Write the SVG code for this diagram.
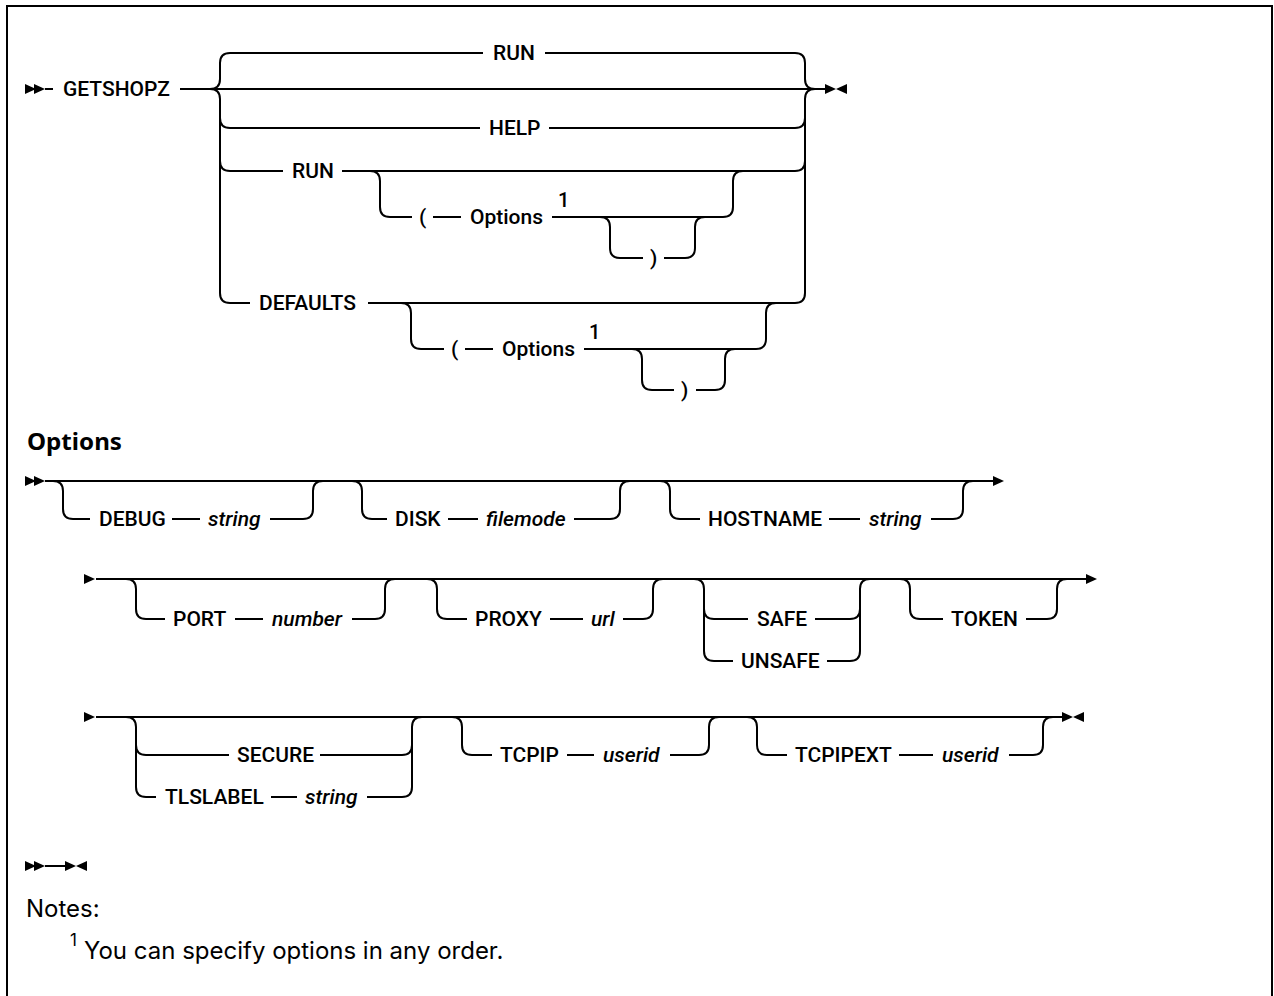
<svg xmlns="http://www.w3.org/2000/svg" width="1274" height="996" viewBox="0 0 1274 996">
<style>
.ln{fill:none;stroke:#000;stroke-width:2}
.t{font-family:Roboto,"Liberation Sans",sans-serif;font-size:21px;font-weight:500;fill:#000}
.i{font-style:italic}
.sup{font-size:20px;font-weight:500}
.h{font-family:"Noto Sans",Roboto,sans-serif;font-size:23px;font-weight:700;fill:#000}
.n{font-family:Inter,Roboto,"Liberation Sans",sans-serif;font-size:24px;font-weight:400;fill:#000}
.ns{font-family:Inter,Roboto,"Liberation Sans",sans-serif;font-size:17px;font-weight:400;fill:#000}
</style>
<defs>
<path id="tr" d="M0,-5 L11,0 L0,5 Z" fill="#000"/>
<path id="tl" d="M0,-5 L-11,0 L0,5 Z" fill="#000"/>
</defs>
<rect x="7" y="6" width="1265" height="1010" fill="#fff" stroke="#000" stroke-width="2"/>

<g id="connectors" class="ln">
<!-- main diagram -->
<path d="M45,89 L53,89"/>
<path d="M180,89 L825,89"/>
<path d="M210,89 Q220,89 220,79 L220,63 Q220,53 230,53 L483,53"/>
<path d="M545,53 L795,53 Q805,53 805,63 L805,79 Q805,89 815,89"/>
<path d="M210,89 Q220,89 220,99 L220,293 Q220,303 230,303 L250,303"/>
<path d="M368,303 L795,303 Q805,303 805,293 L805,99 Q805,89 815,89"/>
<path d="M220,118 Q220,128 230,128 L480,128"/>
<path d="M549,128 L795,128 Q805,128 805,118"/>
<path d="M220,161 Q220,171 230,171 L283,171"/>
<path d="M342,171 L795,171 Q805,171 805,161"/>
<path d="M370,171 Q380,171 380,181 L380,207 Q380,217 390,217 L412,217"/>
<path d="M433,217 L461,217"/>
<path d="M552,217 L723,217 Q733,217 733,207 L733,181 Q733,171 743,171"/>
<path d="M600,217 Q610,217 610,227 L610,248 Q610,258 620,258 L643,258"/>
<path d="M664,258 L685,258 Q695,258 695,248 L695,227 Q695,217 705,217"/>
<path d="M401,303 Q411,303 411,313 L411,339 Q411,349 421,349 L444,349"/>
<path d="M465,349 L493,349"/>
<path d="M584,349 L756,349 Q766,349 766,339 L766,313 Q766,303 776,303"/>
<path d="M632,349 Q642,349 642,359 L642,380 Q642,390 652,390 L674,390"/>
<path d="M696,390 L715,390 Q725,390 725,380 L725,359 Q725,349 735,349"/>
<!-- options row A -->
<path d="M45,481 L993,481"/>
<path d="M53,481 Q63,481 63,491 L63,509 Q63,519 73,519 L90,519"/>
<path d="M172,519 L200,519"/>
<path d="M270,519 L303,519 Q313,519 313,509 L313,491 Q313,481 323,481"/>
<path d="M352,481 Q362,481 362,491 L362,509 Q362,519 372,519 L387,519"/>
<path d="M448,519 L478,519"/>
<path d="M574,519 L610,519 Q620,519 620,509 L620,491 Q620,481 630,481"/>
<path d="M660,481 Q670,481 670,491 L670,509 Q670,519 680,519 L700,519"/>
<path d="M829,519 L860,519"/>
<path d="M931,519 L953,519 Q963,519 963,509 L963,491 Q963,481 973,481"/>
<!-- options row B -->
<path d="M96,579 L1086,579"/>
<path d="M126,579 Q136,579 136,589 L136,609 Q136,619 146,619 L165,619"/>
<path d="M235,619 L263,619"/>
<path d="M352,619 L375,619 Q385,619 385,609 L385,589 Q385,579 395,579"/>
<path d="M427,579 Q437,579 437,589 L437,609 Q437,619 447,619 L467,619"/>
<path d="M550,619 L583,619"/>
<path d="M623,619 L643,619 Q653,619 653,609 L653,589 Q653,579 663,579"/>
<path d="M694,579 Q704,579 704,589 L704,651 Q704,661 714,661 L733,661"/>
<path d="M827,661 L850,661 Q860,661 860,651 L860,589 Q860,579 870,579"/>
<path d="M704,609 Q704,619 714,619 L748,619"/>
<path d="M815,619 L850,619 Q860,619 860,609"/>
<path d="M900,579 Q910,579 910,589 L910,609 Q910,619 920,619 L943,619"/>
<path d="M1026,619 L1047,619 Q1057,619 1057,609 L1057,589 Q1057,579 1067,579"/>
<!-- options row C -->
<path d="M96,717 L1062,717"/>
<path d="M126,717 Q136,717 136,727 L136,787 Q136,797 146,797 L156,797"/>
<path d="M271,797 L297,797"/>
<path d="M367,797 L402,797 Q412,797 412,787 L412,727 Q412,717 422,717"/>
<path d="M136,745 Q136,755 146,755 L229,755"/>
<path d="M320,755 L402,755 Q412,755 412,745"/>
<path d="M452,717 Q462,717 462,727 L462,745 Q462,755 472,755 L492,755"/>
<path d="M567,755 L594,755"/>
<path d="M670,755 L699,755 Q709,755 709,745 L709,727 Q709,717 719,717"/>
<path d="M747,717 Q757,717 757,727 L757,745 Q757,755 767,755 L787,755"/>
<path d="M899,755 L933,755"/>
<path d="M1009,755 L1033,755 Q1043,755 1043,745 L1043,727 Q1043,717 1053,717"/>
<!-- empty fragment line -->
<path d="M45,866 L65,866"/>
</g>

<g id="markers">
<use href="#tr" x="25" y="89"/><use href="#tr" x="34" y="89"/>
<use href="#tr" x="825" y="89"/><use href="#tl" x="847" y="89"/>
<use href="#tr" x="25" y="481"/><use href="#tr" x="34" y="481"/>
<use href="#tr" x="993" y="481"/>
<use href="#tr" x="84" y="579"/><use href="#tr" x="1086" y="579"/>
<use href="#tr" x="84" y="717"/>
<use href="#tr" x="1062" y="717"/><use href="#tl" x="1084" y="717"/>
<use href="#tr" x="25" y="866"/><use href="#tr" x="34" y="866"/>
<use href="#tr" x="65" y="866"/><use href="#tl" x="87" y="866"/>
</g>

<g id="n-getshopz"><text class="t" x="63" y="96">GETSHOPZ</text></g>
<g id="n-run-default"><text class="t" x="493" y="60">RUN</text></g>
<g id="n-help"><text class="t" x="489" y="135">HELP</text></g>
<g id="n-run"><text class="t" x="292" y="178">RUN</text></g>
<g id="n-run-lparen"><text class="t" x="419" y="224">(</text></g>
<g id="n-run-options"><text class="t" x="470" y="224">Options</text><text class="t sup" x="558" y="207">1</text></g>
<g id="n-run-rparen"><text class="t" x="650" y="265">)</text></g>
<g id="n-defaults"><text class="t" x="259" y="310">DEFAULTS</text></g>
<g id="n-def-lparen"><text class="t" x="451" y="356">(</text></g>
<g id="n-def-options"><text class="t" x="502" y="356">Options</text><text class="t sup" x="589" y="339">1</text></g>
<g id="n-def-rparen"><text class="t" x="681" y="397">)</text></g>

<g id="n-options-title"><text class="h" x="27" y="450" textLength="95" lengthAdjust="spacingAndGlyphs">Options</text></g>

<g id="n-debug"><text class="t" x="99" y="526">DEBUG</text><text class="t i" x="208" y="526">string</text></g>
<g id="n-disk"><text class="t" x="395" y="526">DISK</text><text class="t i" x="486" y="526">filemode</text></g>
<g id="n-hostname"><text class="t" x="708" y="526">HOSTNAME</text><text class="t i" x="869" y="526">string</text></g>

<g id="n-port"><text class="t" x="173" y="626">PORT</text><text class="t i" x="272" y="626">number</text></g>
<g id="n-proxy"><text class="t" x="475" y="626">PROXY</text><text class="t i" x="591" y="626">url</text></g>
<g id="n-safe"><text class="t" x="757" y="626">SAFE</text></g>
<g id="n-unsafe"><text class="t" x="741" y="668">UNSAFE</text></g>
<g id="n-token"><text class="t" x="951" y="626">TOKEN</text></g>

<g id="n-secure"><text class="t" x="237" y="762">SECURE</text></g>
<g id="n-tlslabel"><text class="t" x="165" y="804">TLSLABEL</text><text class="t i" x="305" y="804">string</text></g>
<g id="n-tcpip"><text class="t" x="500" y="762">TCPIP</text><text class="t i" x="603" y="762">userid</text></g>
<g id="n-tcpipext"><text class="t" x="795" y="762">TCPIPEXT</text><text class="t i" x="942" y="762">userid</text></g>

<g id="notes">
<text class="n" x="26" y="917">Notes:</text>
<text class="ns" x="70" y="946">1</text>
<text class="n" x="84" y="959">You can specify options in any order.</text>
</g>
</svg>
